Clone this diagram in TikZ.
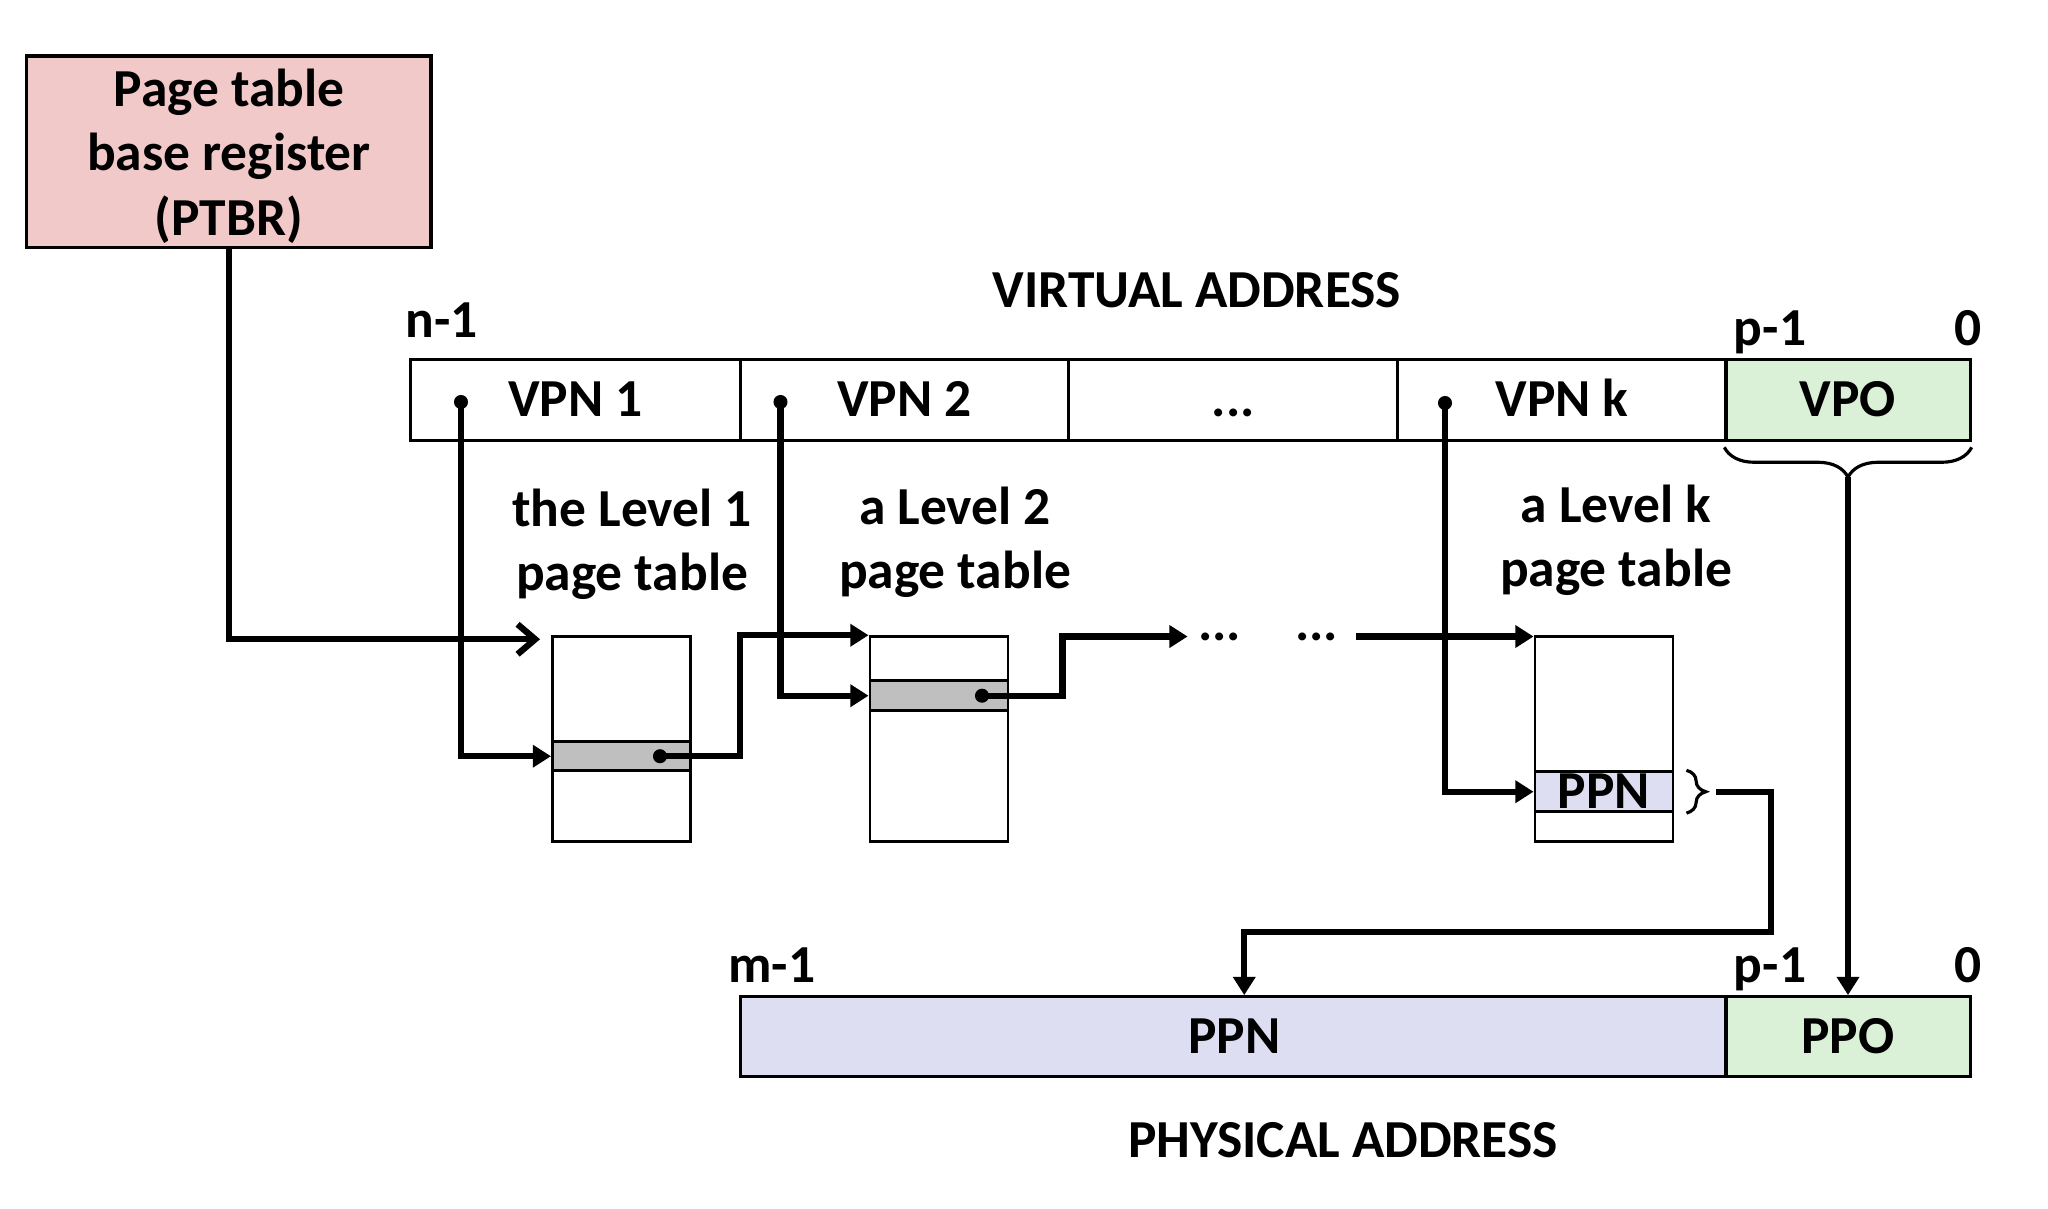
\documentclass[tikz,border=0pt]{standalone}
\usepackage{fontspec}
\setmainfont{Carlito}
\usetikzlibrary{arrows.meta,calc,decorations.pathreplacing}
\definecolor{ptbrpink}{RGB}{242,201,201}
\definecolor{offgreen}{RGB}{218,240,215}
\definecolor{ppnblue}{RGB}{221,222,242}
\definecolor{rowgray}{RGB}{191,191,191}
\begin{document}
\begin{tikzpicture}[x=0.01cm,y=-0.01cm,
  every node/.style={font=\fontsize{15.2}{18.4}\selectfont\bfseries},
  cell/.style={draw, line width=0.9pt, rectangle, inner sep=0pt, minimum height=0.814cm, text height=9.6pt, text depth=0pt},
  pcell/.style={draw, line width=0.9pt, rectangle, inner sep=0pt, minimum height=0.80cm, text height=9.6pt, text depth=0pt},
  tbl/.style={draw, line width=0.8pt, rectangle, inner sep=0pt, minimum width=1.38cm},
  lab/.style={anchor=base, inner sep=0pt},
  dotn/.style={circle, fill, inner sep=0pt, minimum size=4pt},
  ell/.style={inner xsep=2.8pt, inner ysep=0pt},
  conn/.style={line width=1.8pt},
  tri/.style={-{Triangle[length=5.2pt,width=6.2pt]}},
  barb/.style={-{Straight Barb[length=5pt,width=8.5pt]}},
  thinline/.style={line width=0.9pt}]
\useasboundingbox (0,0) rectangle (2048,1208);

% PTBR
\node[draw, line width=0.9pt, fill=ptbrpink, minimum width=4.04cm, minimum height=1.913cm, inner sep=0pt] (ptbr) at (228.8,151.7) {};
\node[align=center, inner sep=0pt] (ptbrtxt) at (229,156) {Page table\\base register\\(PTBR)};

% virtual address
\node[lab] (va) at (1197,307) {VIRTUAL ADDRESS};
\node[lab] (nm1) at (442,337) {n-1};
\node[lab] (vp1) at (1770,345) {p-1};
\node[lab] (v0) at (1968,345) {0};
\node[cell, minimum width=3.297cm] (vpn1) at (575.45,400) {VPN 1};
\node[cell, minimum width=3.285cm] (vpn2) at (904.55,400) {VPN 2};
\node[cell, minimum width=3.29cm] (vdots) at (1233.3,400) {...};
\node[cell, minimum width=3.282cm] (vpnk) at (1561.9,400) {VPN k};
\node[cell, fill=offgreen, minimum width=2.44cm] (vpo) at (1848,400) {VPO};

% page table labels
\node[lab] (l1a) at (632,526) {the Level 1};
\node[lab] (l1b) at (632,590) {page table};
\node[lab] (l2a) at (955,524) {a Level 2};
\node[lab] (l2b) at (955,588) {page table};
\node[lab] (lka) at (1616,522) {a Level k};
\node[lab] (lkb) at (1616,586) {page table};

% page tables
\node[tbl, minimum height=2.05cm] (tbl1) at (621.5,739.2) {};
\node[tbl, fill=rowgray, minimum height=0.29cm] (row1) at (621.5,756.2) {};
\node[tbl, minimum height=2.05cm] (tbl2) at (939,739.2) {};
\node[tbl, fill=rowgray, minimum height=0.30cm] (row2) at (939,695.7) {};
\node[tbl, minimum height=2.05cm] (tblk) at (1604,739.2) {};
\node[tbl, fill=ppnblue, minimum height=0.40cm, text height=9.6pt, text depth=0pt] (rowk) at (1604,791.7) {PPN};

% ellipses between levels
\node[ell] (dA) at (1219.6,636.5) {...};
\node[ell] (dB) at (1316.5,636.5) {...};

% physical address
\node[lab] (mm1) at (772,982) {m-1};
\node[lab] (pp1) at (1770,982) {p-1};
\node[lab] (p0) at (1968,982) {0};
\node[pcell, fill=ppnblue, minimum width=9.865cm] (ppn) at (1234.25,1036.7) {PPN};
\node[pcell, fill=offgreen, minimum width=2.44cm] (ppo) at (1848,1036.7) {PPO};
\node[lab] (pa) at (1343,1157) {PHYSICAL ADDRESS};

% dots
\node[dotn] (d1) at (461,402) {};
\node[dotn] (d2) at (780.5,402) {};
\node[dotn] (dk) at (1445,403) {};
\node[dotn] (r1) at (660,756.2) {};
\node[dotn] (r2) at (982,695.7) {};

% braces
\draw[thinline, decorate, decoration={brace, amplitude=8.5pt}] ($(vpo.south east)+(0,5)$) -- ($(vpo.south west)+(0,5)$);
\coordinate (vb) at ($(vpo.south)+(0,35)$);
\draw[thinline, decorate, decoration={brace, amplitude=5.5pt}] ($(rowk.north east)+(12,0)$) -- ($(rowk.south east)+(12,0)$);
\coordinate (kout) at ($(rowk.east)+(42,0)$);
\coordinate (bend) at (1771,932);

% connectors
\draw[conn, barb] (ptbr.south) |- ($(tbl1.north west)+(-11,4)$);
\draw[conn, tri] (d1.center) |- (row1.west);
\draw[conn, tri] (r1.center) -- ++(80,0) |- (tbl2.north west);
\draw[conn, tri] (d2.center) |- (row2.west);
\draw[conn, tri] (r2.center) -- ++(80.6,0) |- (dA.west);
\draw[conn, tri, shorten <=2.2pt] (dB.east) -- (dB.east -| tblk.west);
\draw[conn, tri] (dk.center) |- (rowk.west);
\draw[conn, tri] (kout) -| (bend) -| ($(ppn.north)+(10,0)$);
\draw[conn, tri] (vb) -- (ppo.north);
\end{tikzpicture}
\end{document}
